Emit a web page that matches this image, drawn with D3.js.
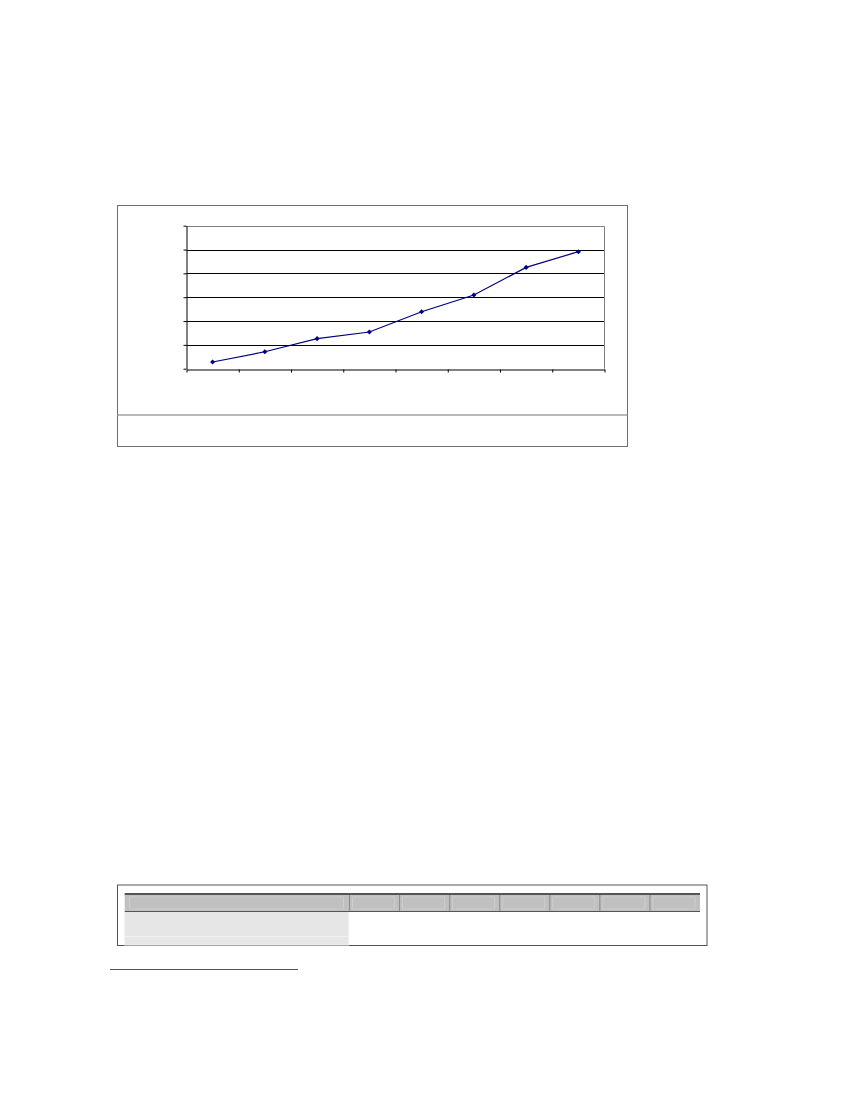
<!DOCTYPE html>
<html>
<head>
<meta charset="utf-8">
<script src="https://cdn.jsdelivr.net/npm/d3@7"></script>
<style>
  html, body { margin: 0; padding: 0; background: #fff; }
  svg { display: block; }
</style>
</head>
<body>
<div id="chart"></div>
<script>
// values (no labels are shown in the original)
const categories = ["c1", "c2", "c3", "c4", "c5", "c6", "c7", "c8"];
const values = [2.8, 7.1, 12.6, 15.4, 23.9, 30.9, 42.5, 49.1];
const yTicks = [0, 10, 20, 30, 40, 50, 60];
const tableColumns = ["", "", "", "", "", "", ""];
const tableRows = ["", ""];

const W = 850, H = 1100;

const svg = d3.select("#chart").append("svg")
  .attr("width", W)
  .attr("height", H);

// chart frame
const frame = { x0: 117.5, y0: 205.5, x1: 627.5, y1: 446.5, split: 415 };

svg.append("rect")
  .attr("x", frame.x0).attr("y", frame.y0)
  .attr("width", frame.x1 - frame.x0).attr("height", frame.y1 - frame.y0)
  .attr("fill", "#fff")
  .attr("stroke", "#6e6e6e")
  .attr("stroke-width", 1);

svg.append("line")
  .attr("x1", frame.x0).attr("x2", frame.x1)
  .attr("y1", frame.split).attr("y2", frame.split)
  .attr("stroke", "#a0a0a0")
  .attr("stroke-width", 1.5);

// plot area
const plot = { left: 186.5, right: 604.5, top: 225.7, bottom: 368.7 };

const y = d3.scaleLinear().domain([0, 60]).range([plot.bottom, plot.top]);
const x = d3.scaleBand().domain(categories).range([plot.left, plot.right]);
const xEdge = d3.scaleLinear().domain([0, categories.length]).range([plot.left, plot.right]);

const g = svg.append("g");

// gridlines
g.selectAll("line.grid")
  .data(yTicks.filter(t => t > 0))
  .enter().append("line")
  .attr("class", "grid")
  .attr("x1", plot.left).attr("x2", plot.right)
  .attr("y1", d => Math.round(y(d)) + 0.5).attr("y2", d => Math.round(y(d)) + 0.5)
  .attr("stroke", d => d === 60 ? "#808080" : "#000")
  .attr("stroke-width", 1);

// right border of plot
g.append("line")
  .attr("x1", plot.right).attr("x2", plot.right)
  .attr("y1", Math.round(y(60)) + 0.5).attr("y2", plot.bottom)
  .attr("stroke", "#808080");

// axes
const yAxis = g.append("g")
  .attr("transform", `translate(${plot.left},0)`)
  .call(d3.axisLeft(y).tickValues(yTicks).tickSize(3).tickSizeOuter(0).tickFormat(""));

const xAxis = g.append("g")
  .attr("transform", `translate(0,${Math.round(plot.bottom) + 0.5})`)
  .call(d3.axisBottom(xEdge).tickValues(d3.range(categories.length + 1)).tickSize(3).tickSizeOuter(0).tickFormat(""));

[yAxis, xAxis].forEach(a => {
  a.selectAll("path, line").attr("stroke", "#000").attr("stroke-width", 1);
});

// series line
const line = d3.line()
  .x((d, i) => x(categories[i]) + x.bandwidth() / 2)
  .y(d => y(d));

g.append("path")
  .datum(values)
  .attr("fill", "none")
  .attr("stroke", "#000080")
  .attr("stroke-width", 1.2)
  .attr("d", line);

// square-ish diamond markers
g.selectAll("path.marker")
  .data(values)
  .enter().append("path")
  .attr("class", "marker")
  .attr("transform", (d, i) => `translate(${x(categories[i]) + x.bandwidth() / 2},${y(d)}) rotate(45)`)
  .attr("d", d3.symbol(d3.symbolSquare, 13))
  .attr("fill", "#000080");

// table below
const tbl = { x0: 117.5, y0: 885, x1: 707, y1: 945.5, hx0: 124.7, hx1: 700, hTop: 894, hBot: 911, labelRight: 348.5 };

svg.append("rect")
  .attr("x", tbl.x0).attr("y", tbl.y0)
  .attr("width", tbl.x1 - tbl.x0).attr("height", tbl.y1 - tbl.y0)
  .attr("fill", "#fff")
  .attr("stroke", "#555")
  .attr("stroke-width", 1);

const colX = d3.scaleBand().domain(d3.range(tableColumns.length)).range([tbl.labelRight + 1, tbl.hx1]);
const rowY = d3.scaleBand().domain(d3.range(tableRows.length)).range([tbl.hBot, tbl.y1 - 0.5 + 17]);

// label column body
svg.selectAll("rect.rowcell")
  .data(tableRows)
  .enter().append("rect")
  .attr("class", "rowcell")
  .attr("x", tbl.hx0)
  .attr("y", (d, i) => rowY(i))
  .attr("width", tbl.labelRight - tbl.hx0)
  .attr("height", (d, i) => Math.min(rowY.bandwidth(), tbl.y1 - 0.5 - rowY(i)))
  .attr("fill", "#e6e6e6")
  .attr("stroke", "#f0f0f0")
  .attr("stroke-width", 1);

// header row
svg.append("rect")
  .attr("x", tbl.hx0).attr("y", tbl.hTop)
  .attr("width", tbl.hx1 - tbl.hx0).attr("height", tbl.hBot - tbl.hTop)
  .attr("fill", "#c0c0c0");

// header cell bevels
svg.append("rect")
  .attr("x", tbl.hx0 + 5).attr("y", tbl.hTop + 3)
  .attr("width", tbl.labelRight - tbl.hx0 - 10).attr("height", tbl.hBot - tbl.hTop - 5)
  .attr("fill", "none")
  .attr("stroke", "#d0d0d0")
  .attr("stroke-width", 0.8);

svg.selectAll("rect.hcell")
  .data(tableColumns)
  .enter().append("rect")
  .attr("class", "hcell")
  .attr("x", (d, i) => colX(i) + 3)
  .attr("y", tbl.hTop + 3)
  .attr("width", colX.bandwidth() - 8)
  .attr("height", tbl.hBot - tbl.hTop - 5)
  .attr("fill", "none")
  .attr("stroke", "#d0d0d0")
  .attr("stroke-width", 0.8);

svg.selectAll("line.hsep")
  .data(tableColumns)
  .enter().append("line")
  .attr("class", "hsep")
  .attr("x1", (d, i) => colX(i)).attr("x2", (d, i) => colX(i))
  .attr("y1", tbl.hTop).attr("y2", tbl.hBot + 1)
  .attr("stroke", "#8a8a8a");

svg.append("line")
  .attr("x1", tbl.hx0).attr("x2", tbl.hx1)
  .attr("y1", tbl.hTop).attr("y2", tbl.hTop)
  .attr("stroke", "#555").attr("stroke-width", 2);

svg.append("line")
  .attr("x1", tbl.hx0).attr("x2", tbl.hx1)
  .attr("y1", tbl.hBot + 0.5).attr("y2", tbl.hBot + 0.5)
  .attr("stroke", "#555").attr("stroke-width", 1);

// footnote rule
svg.append("line")
  .attr("x1", 110).attr("x2", 298)
  .attr("y1", 969.5).attr("y2", 969.5)
  .attr("stroke", "#555").attr("stroke-width", 1);
</script>
</body>
</html>
